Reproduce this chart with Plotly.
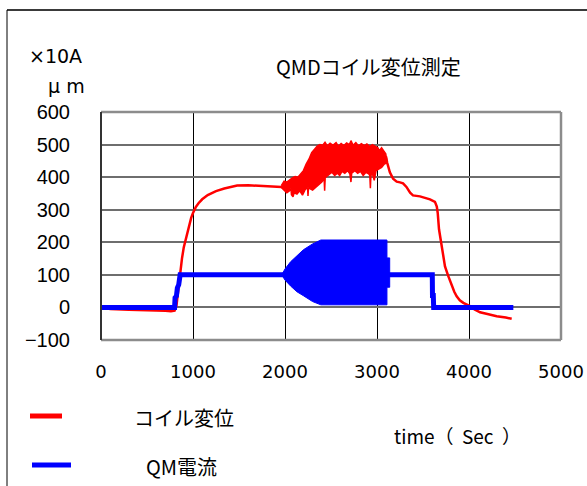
import plotly.graph_objects as go

# ---- data ----
# coil displacement: smooth trend
coil_x = [0, 20, 100, 200, 300, 400, 500, 600, 700, 760, 800, 820, 840, 860, 880, 900, 920, 940, 960, 980,
          1000, 1030, 1060, 1100, 1160, 1250, 1340, 1480, 1600, 1700, 1800, 1900, 1960,
          2100, 2300, 2500, 2700, 2900, 3100,
          3110, 3140, 3175, 3214, 3250, 3283, 3320, 3360, 3391, 3467, 3576, 3630, 3650, 3660, 3674,
          3690, 3703, 3720, 3739, 3775, 3812, 3840, 3866, 3900, 3938, 4011, 4060, 4120, 4200, 4301,
          4400, 4464]
coil_y = [5, 0, -5, -7, -7, -8, -8, -9, -10, -12, -10, 5, 60, 115, 150, 185, 210, 232, 255, 275,
          290, 308, 320, 332, 345, 357, 365, 374, 375, 373, 372, 371, 370,
          375, 420, 460, 460, 460, 460,
          445, 415, 395, 386, 384, 381, 370, 352, 344, 341, 332, 324, 310, 290, 240,
          210, 187, 155, 126, 96, 65, 48, 34, 22, 14, 4, -6, -15, -20, -27,
          -31, -35]

# coil displacement: dense vibration band (upper / lower edges)
band_up_x = [1960, 1990, 2020, 2050, 2080, 2110, 2140, 2170, 2200, 2230, 2260, 2290, 2320, 2350, 2380,
             2410, 2435, 2460, 2490, 2520, 2555, 2580, 2610, 2640, 2670, 2700, 2717, 2740, 2770, 2800,
             2830, 2862, 2890, 2920, 2950, 2989, 3010, 3025, 3050, 3075, 3095, 3110]
band_up_y = [374, 388, 385, 392, 398, 402, 400, 410, 420, 440, 455, 475, 485, 495, 500,
             498, 507, 496, 504, 498, 506, 495, 503, 497, 505, 500, 512, 498, 506, 496,
             503, 497, 502, 494, 500, 494, 490, 481, 490, 480, 472, 445]
band_lo_x = [1960, 1990, 2020, 2050, 2065, 2070, 2087, 2100, 2130, 2160, 2190, 2220, 2245, 2250, 2256,
             2270, 2300, 2330, 2360, 2400, 2425, 2431, 2437, 2450, 2480, 2510, 2540, 2570, 2594, 2620,
             2650, 2680, 2705, 2717, 2725, 2760, 2790, 2820, 2850, 2880, 2910, 2922, 2928, 2934, 2950,
             2970, 2990, 3020, 3050, 3080, 3110]
band_lo_y = [368, 360, 352, 358, 365, 346, 340, 352, 348, 358, 345, 362, 368, 342, 368,
             365, 360, 370, 375, 385, 395, 358, 398, 400, 408, 415, 405, 412, 405, 418,
             412, 420, 410, 385, 412, 420, 412, 418, 405, 415, 410, 405, 366, 405, 410,
             390, 420, 425, 430, 440, 445]

# QM current
qm_x = [0, 800, 805, 820, 830, 845, 860, 1964, 3138, 3601, 3603, 3612, 3616, 4482]
qm_y = [0, 0, 30, 35, 60, 70, 100, 100, 100, 100, 37, 37, 0, 0]

# oscillation envelope of the QM current
osc_x = [1964, 2000, 2060, 2130, 2200, 2300, 2390, 3108, 3108, 3138, 3138]
osc_upper = [100, 118, 140, 160, 177, 195, 207, 207, 152, 152, 100]
osc_lower = [100, 84, 66, 48, 36, 18, 8, 8, 62, 62, 100]

x_ticks = [0, 1000, 2000, 3000, 4000, 5000]
y_ticks = [-100, 0, 100, 200, 300, 400, 500, 600]
y_tick_text = ["\u2212100", "0", "100", "200", "300", "400", "500", "600"]

JP = "Noto Sans CJK JP"
RED = "#ff0000"
BLUE = "#0000ff"

fig = go.Figure()
fig.add_trace(go.Scatter(x=coil_x, y=coil_y, mode="lines", name="コイル変位",
                         line=dict(color=RED, width=2.5), showlegend=False))
fig.add_trace(go.Scatter(x=band_up_x + band_lo_x[::-1], y=band_up_y + band_lo_y[::-1], mode="lines",
                         fill="toself", fillcolor=RED, line=dict(color=RED, width=1.5),
                         showlegend=False, hoverinfo="skip"))
fig.add_trace(go.Scatter(x=osc_x + osc_x[::-1], y=osc_upper + osc_lower[::-1], mode="lines",
                         fill="toself", fillcolor=BLUE, line=dict(color=BLUE, width=1),
                         showlegend=False, hoverinfo="skip"))
fig.add_trace(go.Scatter(x=qm_x, y=qm_y, mode="lines", name="QM電流",
                         line=dict(color=BLUE, width=5), showlegend=False))

L, R, T, B = 101, 26, 112, 146
W, H = 587, 486
pw, ph = W - L - R, H - T - B


def px(x):
    return (x - L) / pw


def py(y):
    return (H - B - y) / ph


shapes = [
    # plot-area frame
    dict(type="line", xref="paper", yref="paper", x0=0, x1=1, y0=1, y1=1, line=dict(color="#8c8c8c", width=2.5)),
    dict(type="line", xref="paper", yref="paper", x0=1, x1=1, y0=0, y1=1, line=dict(color="#8c8c8c", width=2.5)),
    dict(type="line", xref="paper", yref="paper", x0=0, x1=1, y0=0, y1=0, line=dict(color="#8c8c8c", width=2.5)),
    dict(type="line", xref="paper", yref="paper", x0=0, x1=0, y0=0, y1=1, line=dict(color="#333333", width=2)),
    # outer chart border
    dict(type="line", xref="paper", yref="paper", x0=px(7), x1=px(590), y0=py(10), y1=py(10),
         line=dict(color="#3a3a3a", width=2)),
    dict(type="line", xref="paper", yref="paper", x0=px(7), x1=px(7), y0=py(10), y1=py(490),
         line=dict(color="#000000", width=1)),
    # legend samples
    dict(type="line", xref="paper", yref="paper", x0=px(30), x1=px(62), y0=py(416), y1=py(416),
         line=dict(color=RED, width=5)),
    dict(type="line", xref="paper", yref="paper", x0=px(32), x1=px(71), y0=py(465), y1=py(465),
         line=dict(color=BLUE, width=5)),
]


def note(text, x, y, size, family):
    return dict(text=text, x=px(x), y=py(y), xref="paper", yref="paper", showarrow=False,
                xanchor="center", yanchor="middle", font=dict(size=size, color="black", family=family))


annotations = [
    note("QMDコイル変位測定", 368, 67, 20, JP),
    note("×10A", 55, 56, 19, "DejaVu Sans"),
    note("μ m", 66, 86, 19, "DejaVu Sans"),
    note("コイル変位", 184, 417, 20, JP),
    note("QM電流", 181, 467, 20, JP),
    note("time（  Sec  ）", 457, 435, 19, JP),
]

fig.update_layout(
    width=W, height=H, autosize=False,
    margin=dict(l=L, r=R, t=T, b=B, pad=0, autoexpand=False),
    paper_bgcolor="white", plot_bgcolor="white",
    showlegend=False,
    font=dict(family=JP, size=18, color="black"),
    shapes=shapes, annotations=annotations,
    xaxis=dict(range=[0, 5000], tickvals=x_ticks, ticks="", showline=False, zeroline=False,
               automargin=False,
               showgrid=True, gridcolor="#000000", gridwidth=1, ticklabelstandoff=19,
               tickfont=dict(size=18, family="DejaVu Sans")),
    yaxis=dict(range=[-100, 600], tickvals=y_ticks, ticktext=y_tick_text, ticks="", showline=False,
               automargin=False,
               zeroline=False, showgrid=True, gridcolor="#6e6e6e", gridwidth=1.5, ticklabelstandoff=30,
               tickfont=dict(size=20, family="Liberation Sans Narrow, Liberation Sans")),
)

fig.write_html("out.html")
